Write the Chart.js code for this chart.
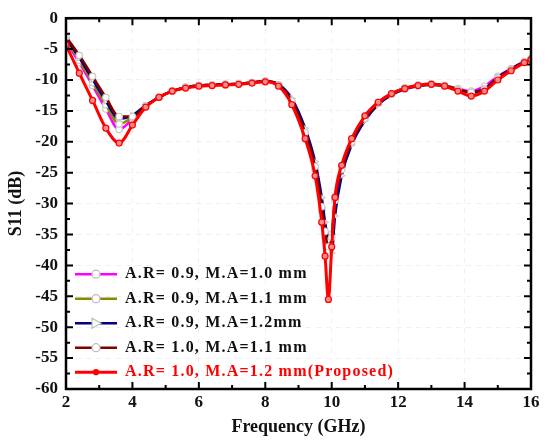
<!DOCTYPE html>
<html>
<head>
<meta charset="utf-8">
<script src="https://cdn.jsdelivr.net/npm/chart.js@4.4.0/dist/chart.umd.min.js"></script>
<style>
html, body { margin: 0; padding: 0; background: #fff; }
</style>
</head>
<body>
<canvas id="chartCanvas" width="548" height="443"></canvas>
<script>
// Chart data

var freq = [2.0, 2.4, 2.8, 3.2, 3.6, 4.0, 4.4, 4.8, 5.2, 5.6, 6.0, 6.4, 6.8, 7.2, 7.6, 8.0, 8.4, 8.8, 9.2, 9.5,
    9.7, 9.8, 9.9, 10.0, 10.1, 10.3, 10.6, 11.0, 11.4, 11.8, 12.2, 12.6, 13.0, 13.4, 13.8, 14.2, 14.6, 15.0, 15.4, 15.8, 16.0]

var ar09_ma10 = [-3.8, -7.2, -10.9, -14.7, -18.0, -16.3, -14.3, -12.8, -11.8, -11.2, -10.9, -10.8, -10.7, -10.6, -10.4, -10.2, -10.8, -13.6, -18.8, -24.5,
    -31.2, -35.5, -37.0, -35.0, -28.8, -24.0, -19.7, -16.0, -13.6, -12.2, -11.3, -10.8, -10.6, -10.9, -11.4, -11.8, -11.0, -9.4, -8.2, -7.1, -6.6]
var ar09_ma11 = [-3.5, -6.8, -10.4, -14.0, -17.1, -16.0, -14.2, -12.8, -11.8, -11.2, -10.9, -10.8, -10.7, -10.6, -10.4, -10.2, -10.8, -13.5, -18.6, -24.2,
    -30.8, -35.0, -37.5, -35.0, -29.0, -24.2, -19.8, -16.1, -13.7, -12.2, -11.3, -10.8, -10.6, -10.9, -11.5, -12.1, -11.5, -9.7, -8.3, -7.1, -6.6]
var ar09_ma12 = [-3.3, -6.4, -9.9, -13.4, -16.3, -15.7, -14.1, -12.8, -11.8, -11.2, -10.9, -10.8, -10.7, -10.6, -10.4, -10.2, -10.7, -13.0, -17.8, -23.2,
    -29.0, -33.0, -36.0, -38.0, -32.0, -25.5, -20.5, -16.6, -14.0, -12.4, -11.5, -11.0, -10.8, -11.0, -11.6, -12.0, -11.4, -9.6, -8.2, -7.0, -6.5]
var ar10_ma11 = [-3.0, -6.0, -9.4, -12.8, -15.9, -15.9, -14.2, -12.8, -11.8, -11.2, -10.9, -10.8, -10.7, -10.6, -10.4, -10.2, -10.8, -13.4, -18.5, -24.0,
    -30.5, -34.5, -37.0, -35.5, -29.5, -24.5, -20.0, -16.2, -13.8, -12.3, -11.4, -10.9, -10.7, -10.9, -11.5, -12.0, -11.5, -9.7, -8.3, -7.1, -6.6]
var ar10_ma12 = [-4.3, -8.9, -13.3, -17.8, -20.2, -17.3, -14.4, -12.8, -11.8, -11.3, -11.0, -10.9, -10.8, -10.7, -10.5, -10.3, -11.0, -14.0, -19.5, -25.5,
    -33.0, -38.5, -45.5, -37.0, -29.0, -23.8, -19.5, -15.8, -13.6, -12.2, -11.4, -10.9, -10.7, -11.0, -11.8, -12.6, -11.8, -10.0, -8.5, -7.2, -6.7]

var seriesLabels = ['A.R= 0.9, M.A=1.0 mm', 'A.R= 0.9, M.A=1.1 mm', 'A.R= 0.9, M.A=1.2mm', 'A.R= 1.0, M.A=1.1 mm', 'A.R= 1.0, M.A=1.2 mm(Proposed)']
var seriesColors = ['#ff00ff', '#8a8a00', '#000080', '#800000', '#ff0000']
var seriesValues = [ar09_ma10, ar09_ma11, ar09_ma12, ar10_ma11, ar10_ma12]
var seriesMarkers = ['circle', 'circle', 'triangle', 'circle', 'circle']

var xMin = 2, xMax = 16, xStep = 2
var yMin = -60, yMax = 0, yStep = 5

var serif = '"Liberation Serif", "DejaVu Serif", serif'

function toPoints(values) {
    return values.map(function(v, i) { return { x: freq[i], y: v } })
}

var datasets = seriesValues.map(function(vals, i) {
    var isRed = i === 4
    return {
        label: seriesLabels[i],
        data: toPoints(vals),
        showLine: true,
        borderColor: seriesColors[i],
        borderWidth: isRed ? 3 : 2.5,
        cubicInterpolationMode: 'monotone',
        pointStyle: seriesMarkers[i],
        pointRotation: seriesMarkers[i] === 'triangle' ? 90 : 0,
        pointRadius: isRed ? 3 : 3.2,
        pointBorderWidth: 1.2,
        pointBackgroundColor: isRed ? '#ff8c8c' : '#ffffff',
        pointBorderColor: isRed ? '#ff0000' : '#c8c8c8',
        order: isRed ? 0 : 5 - i
    }
})

// frame + inward ticks on all four sides
var frameTicks = {
    id: 'frameTicks',
    afterDraw: function(chart) {
        var ctx = chart.ctx, a = chart.chartArea
        var xs = chart.scales.x, ys = chart.scales.y
        ctx.save()
        ctx.strokeStyle = '#000'
        ctx.lineWidth = 2
        var v, p, len
        for (v = xMin; v <= xMax; v += 1) {
            p = xs.getPixelForValue(v)
            len = (v % 2 === 0) ? 7 : 4
            ctx.beginPath()
            ctx.moveTo(p, a.bottom); ctx.lineTo(p, a.bottom - len)
            ctx.moveTo(p, a.top); ctx.lineTo(p, a.top + len)
            ctx.stroke()
        }
        for (v = yMin; v <= yMax; v += 2.5) {
            p = ys.getPixelForValue(v)
            len = (v % 5 === 0) ? 7 : 4
            ctx.beginPath()
            ctx.moveTo(a.left, p); ctx.lineTo(a.left + len, p)
            ctx.moveTo(a.right, p); ctx.lineTo(a.right - len, p)
            ctx.stroke()
        }
        ctx.lineWidth = 2.5
        ctx.strokeRect(a.left, a.top, a.right - a.left, a.bottom - a.top)
        ctx.restore()
    }
}

// legend drawn inside the plot, lower left
var insideLegend = {
    id: 'insideLegend',
    afterDraw: function(chart) {
        var ctx = chart.ctx, a = chart.chartArea
        var x0 = a.left + 9, y0 = a.top + 256, gap = 24.5
        ctx.save()
        ctx.font = 'bold 16px ' + serif
        ctx.textBaseline = 'middle'
        ctx.letterSpacing = '1.2px'
        for (var i = 0; i < seriesLabels.length; i++) {
            var y = y0 + i * gap
            ctx.strokeStyle = seriesColors[i]
            ctx.lineWidth = i === 4 ? 3 : 2.5
            ctx.beginPath()
            ctx.moveTo(x0, y); ctx.lineTo(x0 + 17, y)
            ctx.moveTo(x0 + 25, y); ctx.lineTo(x0 + 42, y)
            ctx.stroke()
            if (i === 4) {
                ctx.beginPath(); ctx.moveTo(x0 + 17, y); ctx.lineTo(x0 + 25, y); ctx.stroke()
            }
            ctx.lineWidth = 1.2
            ctx.fillStyle = i === 4 ? '#ff0000' : '#ffffff'
            ctx.strokeStyle = i === 4 ? '#ff0000' : '#bbbbbb'
            ctx.beginPath()
            if (seriesMarkers[i] === 'triangle') {
                ctx.moveTo(x0 + 17, y - 5); ctx.lineTo(x0 + 26, y); ctx.lineTo(x0 + 17, y + 5); ctx.closePath()
            } else {
                ctx.arc(x0 + 21, y, i === 4 ? 2.5 : 4, 0, Math.PI * 2)
            }
            ctx.fill(); ctx.stroke()
            ctx.fillStyle = i === 4 ? '#ff0000' : '#111'
            ctx.fillText(seriesLabels[i], x0 + 50, y)
        }
        ctx.restore()
    }
}

var options = {
    responsive: false,
    animation: false,
    layout: { padding: { top: 14, right: 17, bottom: 0, left: 0 } },
    plugins: { legend: { display: false }, tooltip: { enabled: false } },
    scales: {
        x: {
            type: 'linear', min: xMin, max: xMax,
            ticks: { stepSize: xStep, color: '#111', font: { family: serif, size: 17, weight: 'bold' }, padding: 3 },
            grid: { color: 'rgba(0,0,0,0.06)', drawTicks: false },
            border: { display: false, dash: [5, 5] },
            title: { display: true, text: 'Frequency (GHz)', color: '#111', font: { family: serif, size: 18, weight: 'bold' }, padding: { top: 0, bottom: 5 } },
            afterFit: function(s) { s.height = 54 }
        },
        y: {
            type: 'linear', min: yMin, max: yMax,
            ticks: { stepSize: yStep, color: '#111', font: { family: serif, size: 17, weight: 'bold' }, padding: 8 },
            grid: { color: 'rgba(0,0,0,0.06)', drawTicks: false },
            border: { display: false, dash: [5, 5] },
            title: { display: true, text: 'S11 (dB)', color: '#111', font: { family: serif, size: 18, weight: 'bold' }, padding: { top: 6, bottom: 0 } },
            afterFit: function(s) { s.width = 66 }
        }
    }
}

var ctx = document.getElementById('chartCanvas').getContext('2d')
var myChart = new Chart(ctx, {
    type: 'scatter',
    data: { datasets: datasets },
    options: options,
    plugins: [frameTicks, insideLegend]
})
</script>
</body>
</html>
